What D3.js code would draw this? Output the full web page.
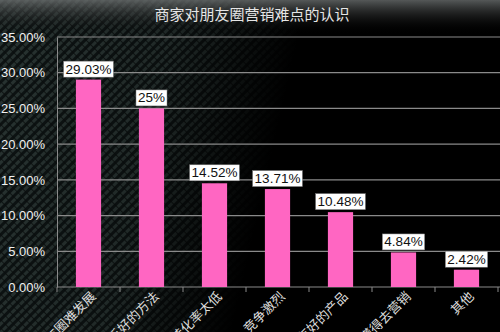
<!DOCTYPE html>
<html lang="zh">
<head>
<meta charset="UTF-8" />
<title>商家对朋友圈营销难点的认识</title>
<script src="https://d3js.org/d3.v7.min.js"></script>
<style>
    body { margin: 0; background: #000; overflow: hidden; }
    text { font-family: "Liberation Sans", Arial, "Noto Sans CJK SC", sans-serif; }
</style>
</head>
<body>
<svg id="chart" width="500" height="332"></svg>
<script>
    const categories = ["朋友圈难发展", "缺乏好的方法", "转化率太低", "竞争激烈", "没有好的产品", "不懂得去营销", "其他"];
    const values = [29.03, 25, 14.52, 13.71, 10.48, 4.84, 2.42];
    const valueLabels = ["29.03%", "25%", "14.52%", "13.71%", "10.48%", "4.84%", "2.42%"];
    const yTicks = [0, 5, 10, 15, 20, 25, 30, 35];
    const title = "商家对朋友圈营销难点的认识";

    const W = 500, H = 332;
    const margin = { top: 37, right: 2, bottom: 45, left: 57 };

    const svg = d3.select("#chart");
    const defs = svg.append("defs");

    // carbon fibre look
    const pat = defs.append("pattern")
        .attr("id", "carbon")
        .attr("width", 6).attr("height", 6)
        .attr("patternUnits", "userSpaceOnUse")
        .attr("patternTransform", "rotate(45)");
    pat.append("rect").attr("width", 6).attr("height", 6).attr("fill", "#0d1313");
    pat.append("rect").attr("width", 3).attr("height", 6).attr("fill", "#283331");
    pat.append("rect").attr("y", 3).attr("width", 6).attr("height", 0.8).attr("fill", "#0a0e0e");

    const fade = defs.append("linearGradient").attr("id", "fade")
        .attr("x1", 0).attr("x2", 1).attr("y1", 0).attr("y2", 0.15);
    fade.append("stop").attr("offset", "0").attr("stop-color", "#000").attr("stop-opacity", 0);
    fade.append("stop").attr("offset", "0.35").attr("stop-color", "#000").attr("stop-opacity", 0.2);
    fade.append("stop").attr("offset", "0.6").attr("stop-color", "#000").attr("stop-opacity", 1);

    const topBand = defs.append("linearGradient").attr("id", "topBand")
        .attr("x1", 0).attr("x2", 0).attr("y1", 0).attr("y2", 1);
    topBand.append("stop").attr("offset", "0").attr("stop-color", "#6a6e6e").attr("stop-opacity", 0.8);
    topBand.append("stop").attr("offset", "1").attr("stop-color", "#000").attr("stop-opacity", 0);

    svg.append("rect").attr("width", W).attr("height", H).attr("fill", "url(#carbon)");
    svg.append("rect").attr("width", W).attr("height", H).attr("fill", "url(#fade)");
    svg.append("rect").attr("width", W).attr("height", 34).attr("fill", "url(#topBand)");

    svg.append("text")
        .attr("x", 252).attr("y", 20)
        .attr("text-anchor", "middle")
        .attr("fill", "#e6e6e6")
        .attr("font-size", 15)
        .style("font-family", "'Noto Sans CJK SC', sans-serif")
        .text(title);

    const x = d3.scaleBand()
        .domain(categories)
        .range([margin.left, W - margin.right])
        .paddingInner(0.6)
        .paddingOuter(0.3);

    const y = d3.scaleLinear()
        .domain([0, 35])
        .range([H - margin.bottom, margin.top]);

    // grid lines
    svg.append("g")
        .selectAll("line")
        .data(yTicks)
        .join("line")
        .attr("x1", margin.left).attr("x2", W)
        .attr("y1", d => y(d)).attr("y2", d => y(d))
        .attr("stroke", "#8a8a8a")
        .attr("stroke-width", 1.2);

    // y axis
    const yAxis = svg.append("g")
        .attr("transform", `translate(${margin.left},0)`)
        .call(d3.axisLeft(y).tickValues(yTicks).tickSize(0).tickPadding(12).tickFormat(d => d.toFixed(2) + "%"));
    yAxis.select(".domain").attr("stroke", "#8a8a8a");
    yAxis.selectAll("text").attr("fill", "#f0f0f0").attr("font-size", 13);

    // x axis ticks at category boundaries
    const step = x.step();
    const xAxis = svg.append("g")
        .attr("transform", `translate(0,${y(0)})`);
    xAxis.selectAll("line")
        .data(d3.range(categories.length + 1))
        .join("line")
        .attr("x1", i => margin.left + i * step).attr("x2", i => margin.left + i * step)
        .attr("y1", 0).attr("y2", 5)
        .attr("stroke", "#8a8a8a");
    xAxis.selectAll("text")
        .data(categories)
        .join("text")
        .attr("transform", d => `translate(${x(d) + x.bandwidth() / 2 + 5},${7}) rotate(-45)`)
        .attr("text-anchor", "end")
        .attr("dy", "0.35em")
        .attr("fill", "#dcdcdc")
        .attr("font-size", 13)
        .style("font-family", "'Noto Sans CJK SC', sans-serif")
        .text(d => d);

    // bars
    svg.append("g")
        .selectAll("rect")
        .data(values)
        .join("rect")
        .attr("x", (d, i) => x(categories[i]))
        .attr("y", d => y(d))
        .attr("width", x.bandwidth())
        .attr("height", d => y(0) - y(d))
        .attr("fill", "#ff66c2");

    // value labels
    const lbl = svg.append("g")
        .selectAll("g")
        .data(values)
        .join("g")
        .attr("transform", (d, i) => `translate(${x(categories[i]) + x.bandwidth() / 2},${y(d) - 3})`);
    lbl.append("text")
        .attr("text-anchor", "middle")
        .attr("y", -3)
        .attr("fill", "#111")
        .attr("font-size", 13.5)
        .text((d, i) => valueLabels[i]);
    lbl.each(function () {
        const g = d3.select(this);
        const b = g.select("text").node().getBBox();
        g.insert("rect", "text")
            .attr("x", b.x - 2).attr("y", b.y - 0.5)
            .attr("width", b.width + 4).attr("height", b.height + 1)
            .attr("fill", "#fff")
            .attr("stroke", "#777")
            .attr("stroke-width", 0.5);
    });
</script>
</body>
</html>
